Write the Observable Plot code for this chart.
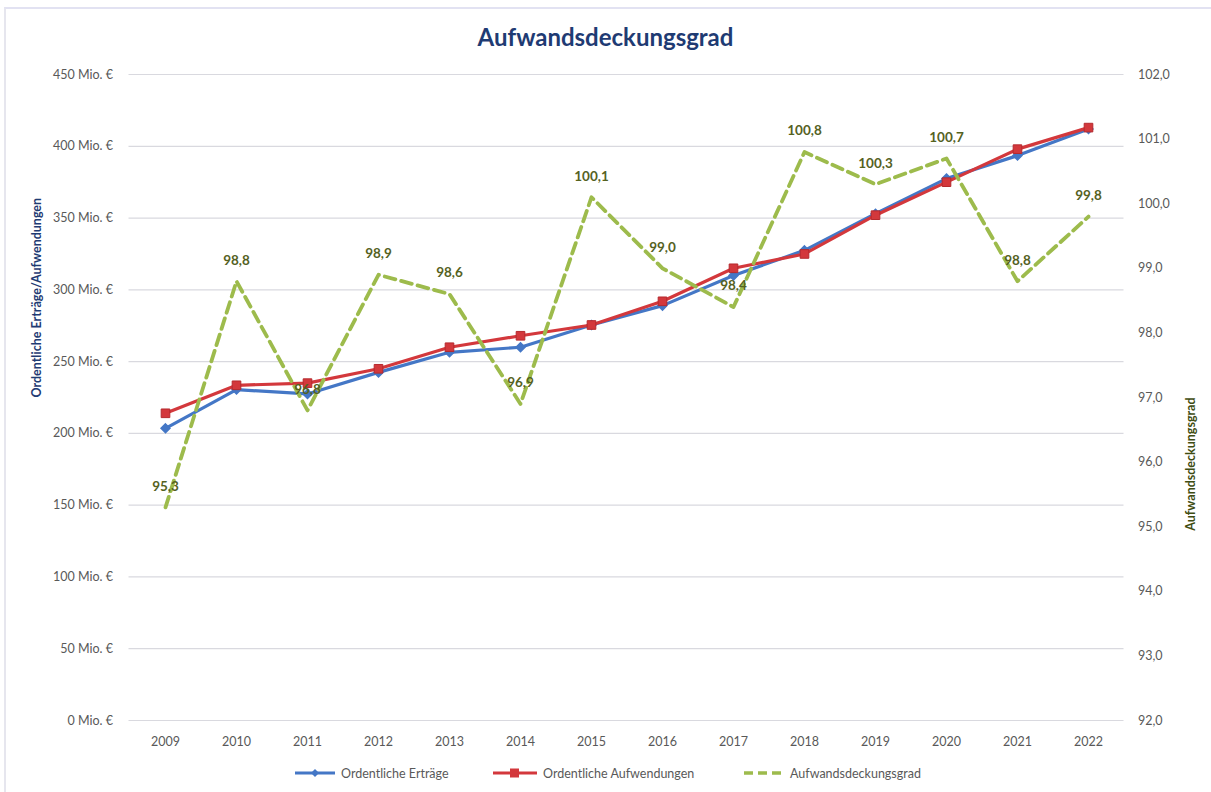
<!DOCTYPE html>
<html>
<head>
<meta charset="utf-8">
<script src="https://cdn.jsdelivr.net/npm/d3@7"></script>
<script src="https://cdn.jsdelivr.net/npm/@observablehq/plot@0.6"></script>
<style>
  html, body { margin: 0; padding: 0; background: #fff; }
  body { width: 1211px; height: 792px; position: relative; overflow: hidden; font-family: Lato, "Open Sans", sans-serif; }
  #frame { position: absolute; left: 4px; top: 7px; width: 1207px; height: 785px; border-top: 2px solid #e2e2f2; border-left: 2px solid #e6e6ee; box-sizing: border-box; }
  #title { position: absolute; left: 0; width: 1211px; top: 22px; text-align: center; font-size: 24px; font-weight: bold; color: #1f3b73; }
  #chart { position: absolute; left: 0; top: 58px; }
  #legend { position: absolute; top: 763px; left: 0; width: 1211px; height: 20px; font-size: 12.5px; color: #595959; }
  .li { position: absolute; top: 0; display: flex; align-items: center; height: 20px; }
  .li svg { margin-right: 6px; }
</style>
</head>
<body>
<div id="frame"></div>
<div id="title">Aufwandsdeckungsgrad</div>
<div id="chart"></div>
<div id="legend"></div>
<script>
const years = ["2009","2010","2011","2012","2013","2014","2015","2016","2017","2018","2019","2020","2021","2022"];
const ertraege = [203.5, 230.5, 227.5, 242.5, 256.5, 260, 275.5, 289, 310, 327.5, 353, 377.5, 393.5, 412];
const aufwendungen = [214, 233.5, 235, 245, 260, 268, 275.5, 292, 315, 325, 352, 375, 398, 413];
const deckungsgrad = [95.3, 98.8, 96.8, 98.9, 98.6, 96.9, 100.1, 99.0, 98.4, 100.8, 100.3, 100.7, 98.8, 99.8];
const leftTicks = [0, 50, 100, 150, 200, 250, 300, 350, 400, 450];
const rightTicks = [92, 93, 94, 95, 96, 97, 98, 99, 100, 101, 102];

// secondary axis mapped onto the primary scale (92 -> 0, 102 -> 450)
const rMin = 92, rMax = 102, lMax = 450;
const toLeft = v => (v - rMin) / (rMax - rMin) * lMax;

const rowsE = years.map((y, i) => ({year: y, v: ertraege[i]}));
const rowsA = years.map((y, i) => ({year: y, v: aufwendungen[i]}));
const rowsD = years.map((y, i) => ({year: y, v: deckungsgrad[i], yv: toLeft(deckungsgrad[i])}));

const blue = "#4477c6", red = "#d3383c", green = "#9dbb4c", greenText = "#55621f";
const fmt1 = v => v.toFixed(1).replace(".", ",");

const plot = Plot.plot({
  width: 1211,
  height: 700,
  marginTop: 16,
  marginBottom: 38,
  marginLeft: 128.5,
  marginRight: 87.5,
  style: {fontFamily: "Lato, 'Open Sans', sans-serif", fontSize: "12.5px", color: "#595959", background: "transparent"},
  x: {type: "point", domain: years, padding: 0.5, label: null},
  y: {domain: [0, lMax], label: null},
  marks: [
    Plot.gridY(leftTicks, {stroke: "#d9d9df", strokeOpacity: 1, strokeWidth: 1.2}),
    Plot.axisX({tickSize: 0, tickPadding: 17, label: null, fontSize: 12.5}),
    Plot.axisY(leftTicks, {anchor: "left", tickSize: 0, tickPadding: 16, tickFormat: d => `${d} Mio. €`, label: null, fontSize: 12.5}),
    Plot.axisY(rightTicks.map(toLeft), {anchor: "right", tickSize: 0, tickPadding: 14, tickFormat: d => fmt1(rMin + d / lMax * (rMax - rMin)), label: null, fontSize: 12.5}),
    Plot.lineY(rowsE, {x: "year", y: "v", stroke: blue, strokeWidth: 3.2}),
    Plot.dot(rowsE, {x: "year", y: "v", symbol: "diamond2", fill: blue, stroke: blue, r: 4}),
    Plot.lineY(rowsA, {x: "year", y: "v", stroke: red, strokeWidth: 3.2}),
    Plot.dot(rowsA, {x: "year", y: "v", symbol: "square2", fill: red, stroke: "#b52a2e", strokeWidth: 1, r: 5.5}),
    Plot.lineY(rowsD, {x: "year", y: "yv", stroke: green, strokeWidth: 3.8, strokeDasharray: "11,6"}),
    Plot.text(rowsD, {x: "year", y: "yv", text: d => fmt1(d.v), dy: -21, fill: greenText, fontWeight: "bold", fontSize: 13.5}),
    Plot.text(["Ordentliche Erträge/Aufwendungen"], {frameAnchor: "left", dx: -92, rotate: -90, fill: "#1f3b73", fontWeight: "bold", fontSize: 12.5}),
    Plot.text(["Aufwandsdeckungsgrad"], {frameAnchor: "right", dx: 67, rotate: -90, fill: "#3f4d12", fontWeight: "bold", fontSize: 12.5})
  ]
});
document.getElementById("chart").appendChild(plot);

// legend
const legend = document.getElementById("legend");
const items = [
  {label: "Ordentliche Erträge", x: 295, html: `<svg width="40" height="12"><line x1="0" y1="6" x2="40" y2="6" stroke="${blue}" stroke-width="3"/><path d="M20,2 L24,6 L20,10 L16,6 Z" fill="${blue}"/></svg>`},
  {label: "Ordentliche Aufwendungen", x: 493, html: `<svg width="44" height="12"><line x1="0" y1="6" x2="44" y2="6" stroke="${red}" stroke-width="3"/><rect x="17" y="1.5" width="9" height="9" fill="${red}"/></svg>`},
  {label: "Aufwandsdeckungsgrad", x: 744, html: `<svg width="40" height="12"><line x1="0" y1="6" x2="40" y2="6" stroke="${green}" stroke-width="3.5" stroke-dasharray="9,5"/></svg>`}
];
for (const it of items) {
  const d = document.createElement("div");
  d.className = "li";
  d.style.left = it.x + "px";
  d.innerHTML = it.html + `<span>${it.label}</span>`;
  legend.appendChild(d);
}
</script>
</body>
</html>
